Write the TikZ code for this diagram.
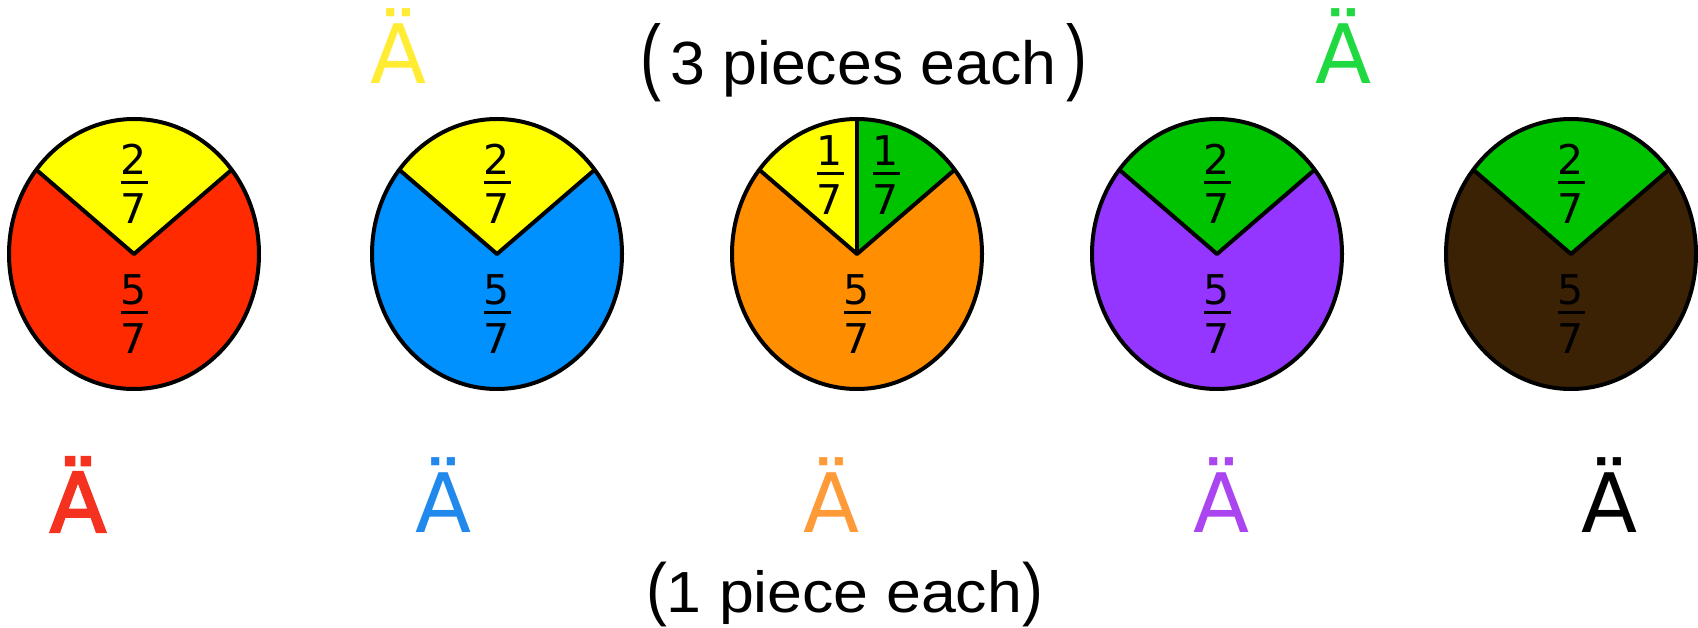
\documentclass[tikz,border=0pt]{standalone}
\usepackage{fontspec}
\setmainfont{Liberation Sans}
\newfontfamily\umlfont{DejaVu Sans}
\newfontfamily\umlboldfont[FakeBold=3]{DejaVu Sans}
\newfontfamily\fracfont{DejaVu Sans}
\usetikzlibrary{calc}
\definecolor{pred}{HTML}{FF2A00}
\definecolor{pyellow}{HTML}{FFFF00}
\definecolor{pblue}{HTML}{0091FF}
\definecolor{porange}{HTML}{FF8E00}
\definecolor{pgreen}{HTML}{00C300}
\definecolor{ppurple}{HTML}{9436FF}
\definecolor{pbrown}{HTML}{3C2205}
\definecolor{tyellow}{HTML}{FFEC33}
\definecolor{tgreen}{HTML}{20D840}
\definecolor{tred}{HTML}{F5321F}
\definecolor{tblue}{HTML}{2189EC}
\definecolor{torange}{HTML}{FF9A38}
\definecolor{tpurple}{HTML}{AA45F0}
\newcommand\drawpie[4]{%
  \coordinate (#1) at (#2,373);
  \fill[#4] (#1) ellipse[x radius=125,y radius=135];
  \fill[#3] (#1) -- ($(#1)+(38.6:125 and 135)$) arc[start angle=38.6,end angle=141.4,x radius=125,y radius=135] -- cycle;
  \draw[pieline] ($(#1)+(38.6:125 and 135)$) -- (#1) -- ($(#1)+(141.4:125 and 135)$);
  \draw[pieline] (#1) ellipse[x radius=125,y radius=135];
}
\newcommand\fracat[5]{%
  \node[fracdigit] (#1n) at (#2,{#3+23.5}) {#4};
  \node[fracdigit] (#1d) at (#2,{#3-26}) {#5};
  \draw[fracbar] ({#2-13.5},#3) -- ({#2+13.5},#3);
}
\newcommand\tallparen[2]{\scalebox{1}[#1]{#2}}
\begin{document}
\begin{tikzpicture}[x=1pt,y=1pt,
  pieline/.style={line width=4pt,line join=round,black},
  fracdigit/.style={inner sep=0pt,font=\fracfont\fontsize{41}{41}\selectfont},
  fracbar/.style={line width=3pt,black},
  umlaut/.style={anchor=base,inner sep=0pt,font=\umlfont\fontsize{82}{82}\selectfont},
  toplabel/.style={anchor=base,inner sep=0pt,font=\fontsize{61}{61}\selectfont},
  botlabel/.style={anchor=base,inner sep=0pt,font=\fontsize{58}{58}\selectfont}]
\useasboundingbox (0,0) rectangle (1698,627);
\fill[white] (0,0) rectangle (1698,627);

% pies
\drawpie{p1}{134}{pyellow}{pred}
\drawpie{p2}{497}{pyellow}{pblue}
% pie 3 with split top
\coordinate (p3) at (857,373);
\fill[porange] (p3) ellipse[x radius=125,y radius=135];
\fill[pgreen] (p3) -- ($(p3)+(38.6:125 and 135)$) arc[start angle=38.6,end angle=90,x radius=125,y radius=135] -- cycle;
\fill[pyellow] (p3) -- ($(p3)+(90:125 and 135)$) arc[start angle=90,end angle=141.4,x radius=125,y radius=135] -- cycle;
\draw[pieline] ($(p3)+(38.6:125 and 135)$) -- (p3) -- ($(p3)+(141.4:125 and 135)$);
\draw[pieline] (p3) -- ($(p3)+(90:125 and 135)$);
\draw[pieline] (p3) ellipse[x radius=125,y radius=135];
\drawpie{p4}{1217}{pgreen}{ppurple}
\drawpie{p5}{1571}{pgreen}{pbrown}

% fractions
\fracat{f1a}{134}{444}{2}{7}
\fracat{f1b}{134}{314}{5}{7}
\fracat{f2a}{497}{444}{2}{7}
\fracat{f2b}{497}{314}{5}{7}
\fracat{f3a}{830}{453}{1}{7}
\fracat{f3c}{886}{453}{1}{7}
\fracat{f3b}{857}{314}{5}{7}
\fracat{f4a}{1217}{444}{2}{7}
\fracat{f4b}{1217}{314}{5}{7}
\fracat{f5a}{1571}{444}{2}{7}
\fracat{f5b}{1571}{314}{5}{7}

% top labels
\node[umlaut,text=tyellow] (uy) at (399,543) {Ä};
\node[umlaut,text=tgreen] (ug) at (1344,543) {Ä};
\node[toplabel] (three) at (863.5,542) {\scalebox{1.027}[1]{\tallparen{1.38}{(}\kern9pt 3 pieces each\kern9pt\tallparen{1.38}{)}}};

% bottom labels
\node[umlaut,text=tred,font=\umlboldfont\fontsize{82}{82}\selectfont] (ur) at (78,95) {Ä};
\node[umlaut,text=tblue] (ub) at (444,95) {Ä};
\node[umlaut,text=torange] (uo) at (832,95) {Ä};
\node[umlaut,text=tpurple] (up) at (1222,95) {Ä};
\node[umlaut,text=black] (uk) at (1610,95) {Ä};
\node[botlabel] (one) at (844.5,15) {\scalebox{1.08}[1]{\tallparen{1.2}{(}1 piece each\tallparen{1.2}{)}}};
\end{tikzpicture}
\end{document}
